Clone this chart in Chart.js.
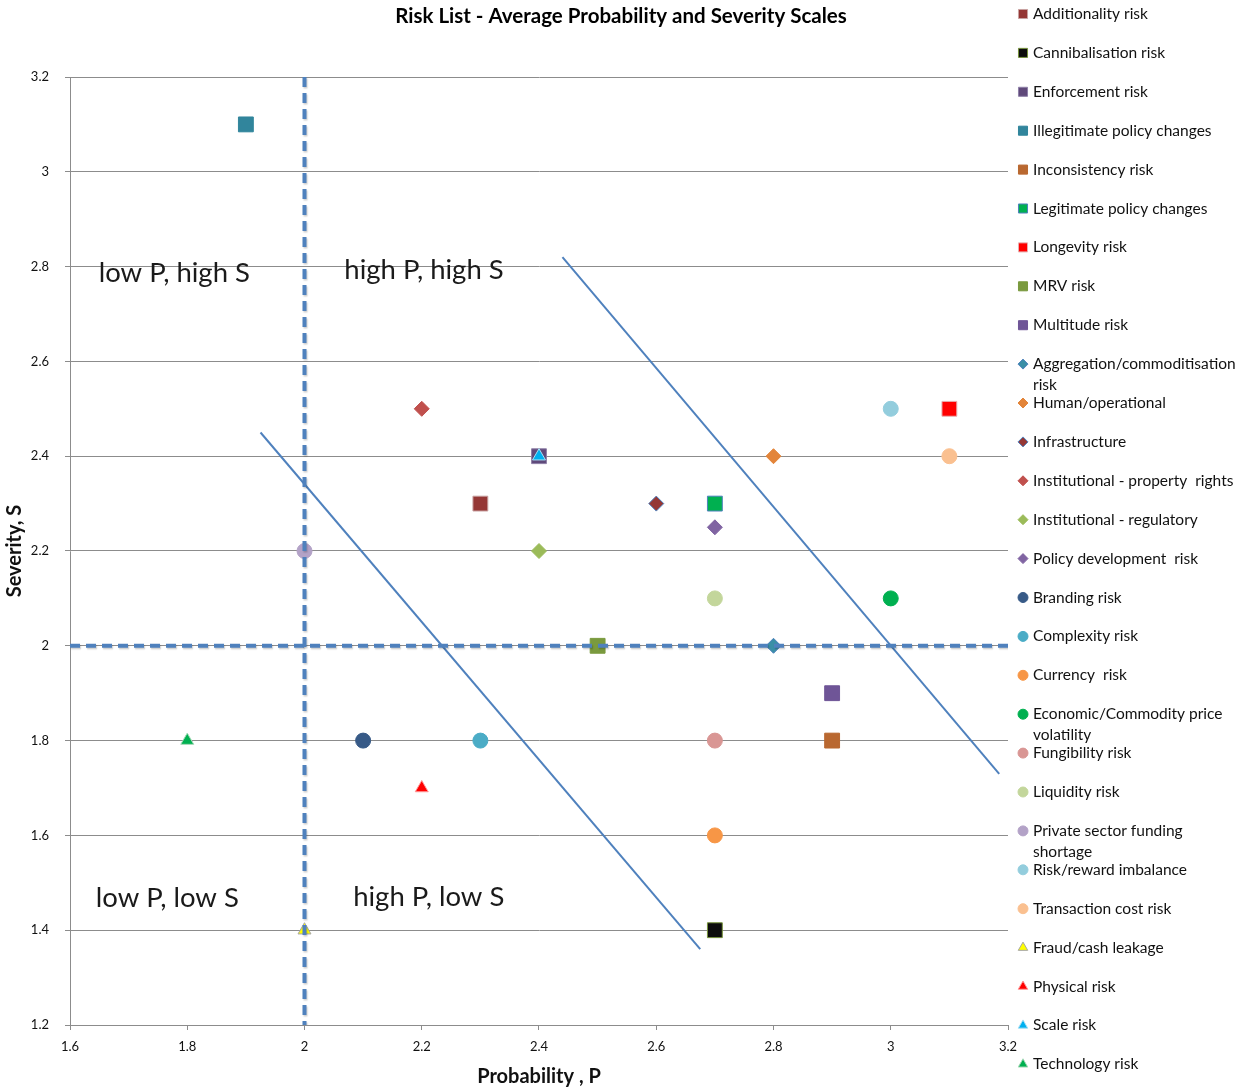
<!DOCTYPE html>
<html>
<head>
<meta charset="utf-8">
<title>Risk List - Average Probability and Severity Scales</title>
<script src="https://cdn.jsdelivr.net/npm/chart.js@4.4.0/dist/chart.umd.min.js"></script>
<style>
  html, body { margin: 0; padding: 0; background: #fff; }
  #wrap { width: 1250px; height: 1090px; }
</style>
</head>
<body>
<div id="wrap"><canvas id="riskChart" width="1250" height="1090"></canvas></div>
<script>
// Risks, in legend order (squares, diamonds, circles, triangles)
const riskNames = [
  'Additionality risk', 'Cannibalisation risk', 'Enforcement risk', 'Illegitimate policy changes',
  'Inconsistency risk', 'Legitimate policy changes', 'Longevity risk', 'MRV risk', 'Multitude risk',
  'Aggregation/commoditisation risk', 'Human/operational', 'Infrastructure',
  'Institutional - property  rights', 'Institutional - regulatory', 'Policy development  risk',
  'Branding risk', 'Complexity risk', 'Currency  risk', 'Economic/Commodity price volatility',
  'Fungibility risk', 'Liquidity risk', 'Private sector funding shortage', 'Risk/reward imbalance',
  'Transaction cost risk', 'Fraud/cash leakage', 'Physical risk', 'Scale risk', 'Technology risk'
];
const probability = [2.3, 2.7, 2.4, 1.9, 2.9, 2.7, 3.1, 2.5, 2.9,
  2.8, 2.8, 2.6, 2.2, 2.4, 2.7,
  2.1, 2.3, 2.7, 3.0, 2.7, 2.7, 2.0, 3.0, 3.1,
  2.0, 2.2, 2.4, 1.8];
const severity = [2.3, 1.4, 2.4, 3.1, 1.8, 2.3, 2.5, 2.0, 1.9,
  2.0, 2.4, 2.3, 2.5, 2.2, 2.25,
  1.8, 1.8, 1.6, 2.1, 1.8, 2.1, 2.2, 2.5, 2.4,
  1.4, 1.7, 2.4, 1.8];

// axis ticks
const xTicks = [1.6, 1.8, 2, 2.2, 2.4, 2.6, 2.8, 3, 3.2];
const xTickLabels = ['1.6', '1.8', '2', '2.2', '2.4', '2.6', '2.8', '3', '3.2'];
const yTicks = [1.2, 1.4, 1.6, 1.8, 2, 2.2, 2.4, 2.6, 2.8, 3, 3.2];
const yTickLabels = ['1.2', '1.4', '1.6', '1.8', '2', '2.2', '2.4', '2.6', '2.8', '3', '3.2'];

// quadrant dividers and the two diagonal guide lines
const splitP = 2;
const splitS = 2;
const guideLow = { p: [1.925, 2.675], s: [2.45, 1.36] };
const guideHigh = { p: [2.44, 3.185], s: [2.82, 1.73] };

// quadrant captions (left edge / middle, in data units)
const quadrantText = ['low P, high S', 'high P, high S', 'low P, low S', 'high P, low S'];
const quadrantP = [1.649, 2.068, 1.644, 2.083];
const quadrantS = [2.786, 2.793, 1.468, 1.47];

// marker styles
const markerShape = [
  'rect', 'rect', 'rect', 'rect', 'rect', 'rect', 'rect', 'rect', 'rect',
  'rectRot', 'rectRot', 'rectRot', 'rectRot', 'rectRot', 'rectRot',
  'circle', 'circle', 'circle', 'circle', 'circle', 'circle', 'circle', 'circle', 'circle',
  'triangle', 'triangle', 'triangle', 'triangle'
];
const markerColor = [
  '#953735', '#0d0d0d', '#5f497a', '#31859c', '#b96830', '#00b050', '#ff0000', '#7a9a3e', '#6f5597',
  '#3a8fa6', '#e3853a', '#953735', '#c0504d', '#9bbb59', '#8064a2',
  '#375a87', '#4bacc6', '#f79646', '#00b050', '#d99694', '#c3d69b', '#b3a2c7', '#93cddd', '#fac090',
  '#ffff00', '#ff0000', '#00b0f0', '#00b050'
];
const markerEdge = [
  '#c9a3a2', '#77933c', '#8f80a8', '#31859c', '#b96830', '#4f81bd', '#e6b0b0', '#7a9a3e', '#6f5597',
  '#4f81bd', '#e3853a', '#4f81bd', '#c0504d', '#9bbb59', '#8064a2',
  '#375a87', '#4bacc6', '#f79646', '#00b050', '#d99694', '#c3d69b', '#b3a2c7', '#93cddd', '#fac090',
  '#a6a6a6', '#ff9999', '#a6e0f5', '#a6d9b8'
];
const markerRadius = { rect: 10.5, rectRot: 7.5, circle: 7.5, triangle: 7.5 };
const legendRadius = { rect: 6.4, rectRot: 5, circle: 5, triangle: 5.5 };

const guideBlue = '#4f81bd';
const gridGrey = '#8c8c8c';
const textFont = 'Lato, "Open Sans", sans-serif';

const pointSets = riskNames.map((name, i) => ({
  label: name,
  data: [{ x: probability[i], y: severity[i] }],
  pointStyle: markerShape[i],
  pointRadius: markerRadius[markerShape[i]],
  pointHoverRadius: markerRadius[markerShape[i]],
  backgroundColor: markerColor[i],
  borderColor: markerEdge[i],
  pointBorderWidth: 1,
  order: 100 - i
}));

function guideSet(p, s, dashed) {
  return {
    label: '',
    isGuide: true,
    shadow: dashed,
    data: p.map((v, k) => ({ x: v, y: s[k] })),
    showLine: true,
    pointRadius: 0,
    pointHoverRadius: 0,
    borderColor: guideBlue,
    borderWidth: dashed ? 4 : 2,
    borderDash: dashed ? [10, 6] : [],
    order: 0
  };
}

const lineSets = [
  guideSet([splitP, splitP], [yTicks[yTicks.length - 1], yTicks[0]], true),
  guideSet([xTicks[0], xTicks[xTicks.length - 1]], [splitS, splitS], true),
  guideSet(guideLow.p, guideLow.s, false),
  guideSet(guideHigh.p, guideHigh.s, false)
];

// faint shadow under the dashed dividers
const shadowPlugin = {
  id: 'guideShadow',
  beforeDatasetDraw(chart, args) {
    const ds = chart.data.datasets[args.index];
    if (!ds.shadow) return;
    const ctx = chart.ctx;
    ctx.save();
    ctx.shadowColor = 'rgba(0,0,0,0.2)';
    ctx.shadowBlur = 1.5;
    ctx.shadowOffsetX = 1;
    ctx.shadowOffsetY = 1.5;
  },
  afterDatasetDraw(chart, args) {
    if (chart.data.datasets[args.index].shadow) chart.ctx.restore();
  }
};

// title, quadrant captions and the legend on the right
const decorPlugin = {
  id: 'decor',
  afterDraw(chart) {
    const ctx = chart.ctx;
    const xs = chart.scales.x, ys = chart.scales.y;
    ctx.save();

    ctx.fillStyle = '#000';
    ctx.font = 'bold 20.5px ' + textFont;
    ctx.textAlign = 'center';
    ctx.textBaseline = 'middle';
    ctx.fillText('Risk List - Average Probability and Severity Scales', 621, 16);

    ctx.font = '27.5px ' + textFont;
    ctx.textAlign = 'left';
    ctx.fillStyle = '#1a1a1a';
    quadrantText.forEach((t, i) => {
      ctx.fillText(t, xs.getPixelForValue(quadrantP[i]), ys.getPixelForValue(quadrantS[i]));
    });

    ctx.font = '15.5px ' + textFont;
    const maxW = 208;
    chart.data.datasets.forEach((ds) => {
      if (ds.isGuide) return;
      const i = riskNames.indexOf(ds.label);
      const y = 14 + i * 38.9;
      ctx.fillStyle = ds.backgroundColor;
      ctx.strokeStyle = ds.borderColor;
      ctx.lineWidth = 1;
      Chart.helpers.drawPoint(ctx, {
        pointStyle: ds.pointStyle,
        radius: legendRadius[ds.pointStyle],
        borderWidth: 1,
        rotation: 0
      }, 1023, y);

      // simple word wrap
      const words = ds.label.split(' ');
      const lines = [];
      let cur = '';
      words.forEach(w => {
        const test = cur === '' ? w : cur + ' ' + w;
        if (ctx.measureText(test).width > maxW && cur !== '') {
          lines.push(cur);
          cur = w;
        } else {
          cur = test;
        }
      });
      lines.push(cur);
      ctx.fillStyle = '#111';
      lines.forEach((ln, k) => ctx.fillText(ln, 1033, y + k * 21));
    });
    ctx.restore();
  }
};

const ctx = document.getElementById('riskChart').getContext('2d');
new Chart(ctx, {
  type: 'scatter',
  data: { datasets: pointSets.concat(lineSets) },
  options: {
    responsive: false,
    animation: false,
    devicePixelRatio: 1,
    layout: { padding: { left: 0, right: 242, top: 77, bottom: 0 } },
    plugins: {
      legend: { display: false },
      title: { display: false },
      tooltip: { enabled: false }
    },
    scales: {
      x: {
        type: 'linear',
        min: xTicks[0],
        max: xTicks[xTicks.length - 1],
        afterBuildTicks: s => { s.ticks = xTicks.map(v => ({ value: v })); },
        afterFit: s => { s.height = 65; },
        grid: { drawOnChartArea: false, drawTicks: true, tickLength: 5, color: gridGrey },
        border: { display: true, color: gridGrey, width: 1 },
        ticks: {
          padding: 9,
          color: '#111',
          font: { family: textFont, size: 13 },
          callback: (v, i) => xTickLabels[i]
        },
        title: {
          display: true,
          text: 'Probability , P',
          color: '#111',
          font: { family: textFont, size: 20, weight: 'bold' },
          padding: { top: 0, bottom: 1 }
        }
      },
      y: {
        type: 'linear',
        min: yTicks[0],
        max: yTicks[yTicks.length - 1],
        afterBuildTicks: s => { s.ticks = yTicks.map(v => ({ value: v })); },
        afterFit: s => { s.width = 70; },
        grid: { drawOnChartArea: true, drawTicks: true, tickLength: 5, color: gridGrey },
        border: { display: true, color: gridGrey, width: 1 },
        ticks: {
          padding: 16,
          color: '#111',
          font: { family: textFont, size: 13 },
          callback: (v, i) => yTickLabels[i]
        },
        title: {
          display: true,
          text: 'Severity, S',
          color: '#111',
          font: { family: textFont, size: 20, weight: 'bold' },
          padding: { top: 3, bottom: 0 }
        }
      }
    }
  },
  plugins: [shadowPlugin, decorPlugin]
});
</script>
</body>
</html>
